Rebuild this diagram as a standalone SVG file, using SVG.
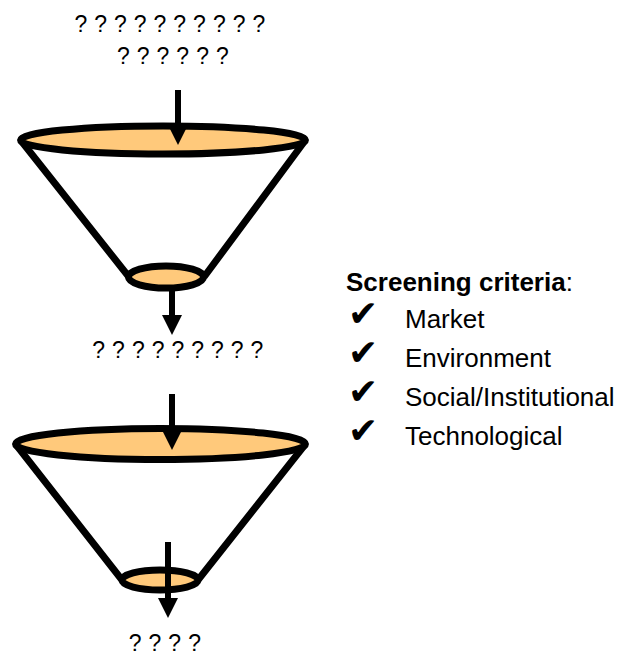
<svg xmlns="http://www.w3.org/2000/svg" width="619" height="655" viewBox="0 0 619 655">
<style>
.t{font-family:"Liberation Sans",Arial,sans-serif;font-size:23px;letter-spacing:0.3px;fill:#000}
.lab{font-family:"Liberation Sans",Arial,sans-serif;font-size:26px;fill:#000}
.chk{font-family:"DejaVu Sans",sans-serif;font-size:36px;fill:#000}
.side{fill:none;stroke:#000;stroke-width:7;stroke-linejoin:round}
.rim{fill:#FFC97B;stroke:#000;stroke-width:7}
.arr{stroke:#000;stroke-width:6;fill:none}
</style>
<defs>
<marker id="ah" markerUnits="userSpaceOnUse" markerWidth="20" markerHeight="20" viewBox="0 0 20 20" refX="0" refY="10" orient="auto">
<path d="M0,0 L20,10 L0,20 z" fill="#000"/>
</marker>
</defs>
<rect width="619" height="655" fill="#fff"/>
<g id="input-text">
<text class="t" x="170" y="32" text-anchor="middle">? ? ? ? ? ? ? ? ? ?</text>
<text class="t" x="173" y="64" text-anchor="middle">? ? ? ? ? ?</text>
</g>
<g id="funnel1">
<path class="side" d="M20.5,140 L129,277 M305.5,140 L204,277"/>
<ellipse class="rim" cx="163" cy="140" rx="142.5" ry="14"/>
<ellipse class="rim" cx="166" cy="277" rx="37.5" ry="11"/>
</g>
<g id="middle-text">
<text class="t" x="178" y="358" text-anchor="middle">? ? ? ? ? ? ? ? ?</text>
</g>
<g id="funnel2">
<path class="side" d="M15.5,444 L122,580 M305.5,444 L198,580"/>
<ellipse class="rim" cx="160.5" cy="444" rx="145" ry="15.5"/>
<ellipse class="rim" cx="160" cy="580" rx="38" ry="10"/>
</g>
<g id="output-text">
<text class="t" x="165" y="651" text-anchor="middle">? ? ? ?</text>
</g>
<g id="criteria">
<text class="lab" x="346" y="291"><tspan font-weight="bold">Screening criteria</tspan>:</text>
<text class="chk" x="348" y="326">✔</text>
<text class="lab" x="405" y="328">Market</text>
<text class="chk" x="348" y="365">✔</text>
<text class="lab" x="405" y="367">Environment</text>
<text class="chk" x="348" y="404">✔</text>
<text class="lab" x="405" y="406">Social/Institutional</text>
<text class="chk" x="348" y="443">✔</text>
<text class="lab" x="405" y="445">Technological</text>
</g>
<g id="connectors">
<line class="arr" x1="178" y1="90" x2="178" y2="125" marker-end="url(#ah)"/>
<line class="arr" x1="172" y1="288" x2="172" y2="315" marker-end="url(#ah)"/>
<line class="arr" x1="172" y1="394" x2="172" y2="430" marker-end="url(#ah)"/>
<line class="arr" x1="168" y1="542" x2="168" y2="598" marker-end="url(#ah)"/>
</g>
</svg>
